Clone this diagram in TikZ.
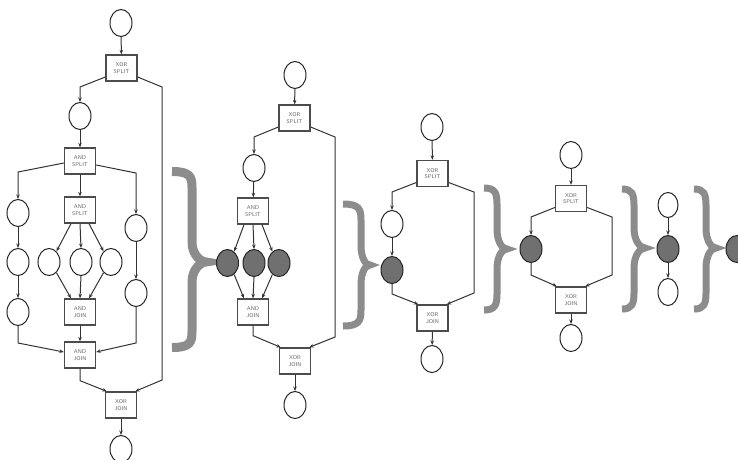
\documentclass[tikz,border=0pt]{standalone}
\usetikzlibrary{shapes.geometric,arrows.meta}
\definecolor{bracegray}{RGB}{140,140,140}
\definecolor{tokengray}{RGB}{112,112,112}
\tikzset{
  place/.style={ellipse, draw=black!85, line width=1pt, minimum width=22pt, minimum height=27pt, inner sep=0pt, fill=white},
  token/.style={place, fill=tokengray},
  gate/.style={rectangle, draw=black!70, line width=1.3pt, minimum width=31pt, minimum height=26pt, inner sep=0pt, font=\sffamily\fontsize{5.5}{6.5}\selectfont, text=black!60, align=center, fill=white},
  arc/.style={draw=black!80, line width=1pt, -{Stealth[length=4.5pt,width=3.5pt]}},
  brc/.style={draw=bracegray, line width=#1},
}
\newcommand{\wfbrace}[7]{% L S T Y1 Ym Y2 width
  \draw[brc=#7] (#1,#4) .. controls (#2-2,#4) and (#2,#4+5) .. (#2,#4+16)
    -- (#2,#5-20) .. controls (#2,#5-6) and (#3-4,#5) .. (#3,#5)
    .. controls (#3-4,#5) and (#2,#5+6) .. (#2,#5+20)
    -- (#2,#6-16) .. controls (#2,#6-5) and (#2-2,#6) .. (#1,#6);}
\begin{document}
\begin{tikzpicture}[x=1pt,y=-1pt]
\useasboundingbox (0,0) rectangle (738,459);
\clip (0,0) rectangle (738,459);
% ---------------- diagram 1
\node[place] (p1) at (121,23) {};
\node[gate] (g1) at (121.5,68) {XOR\\SPLIT};
\node[place] (p2) at (80,116) {};
\node[gate] (g2) at (80,161) {AND\\SPLIT};
\node[place] (pL1) at (18,213) {};
\node[gate] (g3) at (80,210) {AND\\SPLIT};
\node[place] (pR1) at (136,228) {};
\node[place] (pL2) at (18,262) {};
\node[place] (pM1) at (49,262) {};
\node[place] (pM2) at (81,262) {};
\node[place] (pM3) at (111,262) {};
\node[place] (pL3) at (18,312) {};
\node[place] (pR2) at (136,293) {};
\node[gate] (g4) at (80,312) {AND\\JOIN};
\node[gate] (g5) at (80,355) {AND\\JOIN};
\node[gate] (g6) at (121,405) {XOR\\JOIN};
\node[place] (p3) at (121,449) {};
\draw[arc] (p1) -- (g1);
\draw[arc] ([yshift=-9pt]g1.west) -- ([yshift=15pt]p2.north) -- (p2.north);
\draw[arc] ([yshift=-9pt]g1.east) -- (162,87) -- (162,380) -- ([xshift=-2pt]g6.north east);
\draw[arc] (p2) -- (g2);
\draw[arc] ([yshift=-2pt]g2.west) -- ([yshift=27pt]pL1.north) -- (pL1.north);
\draw[arc] ([yshift=-4pt]g2.east) -- ([yshift=41pt]pR1.north) -- (pR1.north);
\draw[arc] (g2) -- (g3);
\draw[arc] ([xshift=-9pt]g3.south) -- (pM1.55);
\draw[arc] (g3.south) -- (pM2.north);
\draw[arc] ([xshift=9pt]g3.south) -- (pM3.125);
\draw[arc] (pM1.-55) -- ([xshift=-9pt]g4.north);
\draw[arc] (pM2.south) -- (g4.north);
\draw[arc] (pM3.-125) -- ([xshift=9pt]g4.north);
\draw[arc] (pL1) -- (pL2);
\draw[arc] (pL2) -- (pL3);
\draw[arc] (pR1) -- (pR2);
\draw[arc] (g4) -- (g5);
\draw[arc] (pL3.south) -- ([yshift=12pt]pL3.south |- g5.west) -- ([yshift=3pt]g5.west);
\draw[arc] (pR2.south) -- ([yshift=12pt]pR2.south |- g5.east) -- ([yshift=3pt]g5.east);
\draw[arc] (g5.south) -- ([yshift=-12pt]g5.south) -- ([xshift=2pt]g6.north west);
\draw[arc] (g6) -- (p3);
\wfbrace{172}{192}{206}{171.5}{262}{347.5}{9pt}
% ---------------- diagram 2
\node[place] (q1) at (295,75) {};
\node[gate] (h1) at (294.5,118) {XOR\\SPLIT};
\node[place] (q2) at (254,168) {};
\node[gate] (h2) at (253,211) {AND\\SPLIT};
\node[token] (t1) at (227.5,263) {};
\node[token] (t2) at (254,263) {};
\node[token] (t3) at (279,263) {};
\node[gate] (h3) at (253,312) {AND\\JOIN};
\node[gate] (h4) at (295,361) {XOR\\JOIN};
\node[place] (q3) at (295,405) {};
\draw[arc] (q1) -- (h1);
\draw[arc] ([yshift=-9pt]h1.west) -- ([yshift=17pt]q2.north) -- (q2.north);
\draw[arc] ([yshift=-9pt]h1.east) -- (335,137) -- (335,337) -- ([xshift=-2pt]h4.north east);
\draw[arc] (q2) -- (h2);
\draw[arc] ([xshift=-9pt]h2.south) -- (t1.60);
\draw[arc] (h2.south) -- (t2.north);
\draw[arc] ([xshift=9pt]h2.south) -- (t3.120);
\draw[arc] (t1.-60) -- ([xshift=-9pt]h3.north);
\draw[arc] (t2.south) -- (h3.north);
\draw[arc] (t3.-120) -- ([xshift=9pt]h3.north);
\draw[arc] (h3.south) -- ([yshift=-10pt]h3.south) -- ([xshift=2pt]h4.north west);
\draw[arc] (h4) -- (q3);
\wfbrace{343}{361}{370}{204}{265}{326}{7pt}
% ---------------- diagram 3
\node[place] (r1) at (432,127) {};
\node[gate] (k1) at (432.5,173.5) {XOR\\SPLIT};
\node[place] (r2) at (392,224) {};
\node[token] (r3) at (392,270) {};
\node[gate] (k2) at (432.5,318) {XOR\\JOIN};
\node[place] (r4) at (432,359) {};
\draw[arc] (r1) -- (k1);
\draw[arc] ([yshift=-9pt]k1.west) -- ([yshift=18pt]r2.north) -- (r2.north);
\draw[arc] ([yshift=-9pt]k1.east) -- (474,192) -- (474,293) -- ([xshift=-2pt]k2.north east);
\draw[arc] (r2) -- (r3);
\draw[arc] (r3.south) -- ([yshift=-10pt]r3.south) -- ([xshift=2pt]k2.north west);
\draw[arc] (k2) -- (r4);
\wfbrace{484}{497}{507}{188}{249}{310}{7pt}
% ---------------- diagram 4
\node[place] (s1) at (571,155) {};
\node[gate] (m1) at (571,198.5) {XOR\\SPLIT};
\node[token] (s2) at (531,249) {};
\node[gate] (m2) at (571,300) {XOR\\JOIN};
\node[place] (s3) at (571,338) {};
\draw[arc] (s1) -- (m1);
\draw[arc] ([yshift=-9pt]m1.west) -- ([yshift=18pt]s2.north) -- (s2.north);
\draw[arc] ([yshift=-9pt]m1.east) -- (612,217) -- (612,275) -- ([xshift=-2pt]m2.north east);
\draw[arc] (s2.south) -- ([yshift=-12pt]s2.south) -- ([xshift=2pt]m2.north west);
\draw[arc] (m2) -- (s3);
\wfbrace{622}{634}{645}{189}{248}{309}{7pt}
% ---------------- diagram 5
\node[place, minimum width=20pt, minimum height=25pt] (u1) at (668,205) {};
\node[token, minimum width=22pt, minimum height=27pt] (u2) at (668,249) {};
\node[place, minimum width=20pt, minimum height=27pt] (u3) at (668,292) {};
\draw[arc] (u1) -- (u2);
\draw[arc] (u2) -- (u3);
\wfbrace{694}{706}{716}{189}{248}{309}{7pt}
\node[token] (u4) at (737,249) {};
\end{tikzpicture}
\end{document}
